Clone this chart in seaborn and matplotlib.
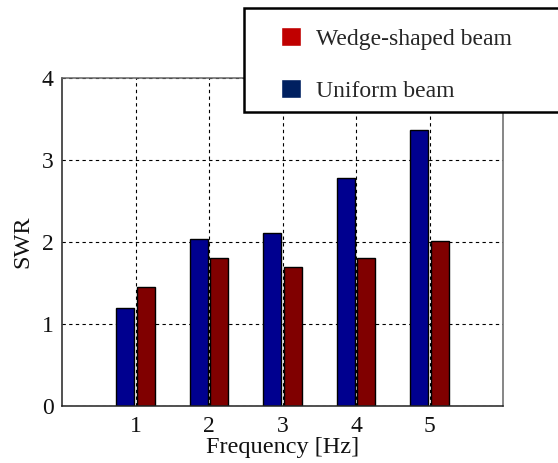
"""
SWR of uniform and wedge-shaped beams at each frequency (grouped bars)
"""

import pandas as pd
import matplotlib
matplotlib.use("Agg")
import matplotlib.pyplot as plt
from matplotlib.patches import Patch, Rectangle
import seaborn as sns

# Data
frequencies = ["1", "2", "3", "4", "5"]
uniform_swr = [1.20, 2.04, 2.11, 2.78, 3.37]
wedge_swr = [1.45, 1.81, 1.69, 1.81, 2.01]
series_names = ["Uniform beam", "Wedge-shaped beam"]

df = pd.DataFrame({
    "freq": frequencies * 2,
    "swr": uniform_swr + wedge_swr,
    "beam": [series_names[0]] * 5 + [series_names[1]] * 5,
})

sns.set_style("white")
plt.rcParams["font.family"] = ["Liberation Serif", "DejaVu Serif"]

fig = plt.figure(figsize=(5.58, 4.63), dpi=100)
ax = fig.add_axes([62 / 558, 57 / 463, 441 / 558, 328 / 463])

# Bars
sns.barplot(data=df, x="freq", y="swr", hue="beam", hue_order=series_names,
            order=frequencies, palette=["#00008f", "#800000"], saturation=1,
            width=0.56, gap=0.12, edgecolor="black", linewidth=1,
            legend=False, ax=ax)

ax.set_xlim(-1, 5)
ax.set_ylim(0, 4)
ax.set_yticks([0, 1, 2, 3, 4])

# Dashed grid behind the bars
ax.set_axisbelow(True)
ax.grid(True, linestyle=(0, (3, 3)), color="black", linewidth=0.8)

ax.tick_params(axis="both", length=0, labelsize=17, colors="#111111")
ax.tick_params(axis="x", pad=7)
ax.tick_params(axis="y", pad=6)
ax.set_xlabel("Frequency [Hz]", fontsize=17.5, labelpad=0, color="#111111")
ax.set_ylabel("SWR", fontsize=17.5, labelpad=6, color="#111111")

for side in ["top", "right"]:
    ax.spines[side].set_color("#666666")
for side in ["left", "bottom"]:
    ax.spines[side].set_color("#222222")
for sp in ax.spines.values():
    sp.set_linewidth(1.1)

# Legend in a box that runs off the right edge
fig.patches.append(Rectangle((244 / 558, 1 - 112 / 463), 0.6, 104 / 463,
                             transform=fig.transFigure, facecolor="white",
                             edgecolor="black", linewidth=1.8, zorder=5))
handles = [Patch(facecolor="#c00000", label="Wedge-shaped beam"),
           Patch(facecolor="#002060", label="Uniform beam")]
leg = fig.legend(handles=handles, loc="upper left",
                 bbox_to_anchor=(281 / 558, 1 - 27 / 463),
                 frameon=False, fontsize=17, borderpad=0, borderaxespad=0,
                 handlelength=0.85, handleheight=0.85,
                 handletextpad=0.65, labelspacing=1.25)
leg.set_zorder(6)

fig.savefig("out.png", dpi=100)
plt.close(fig)
